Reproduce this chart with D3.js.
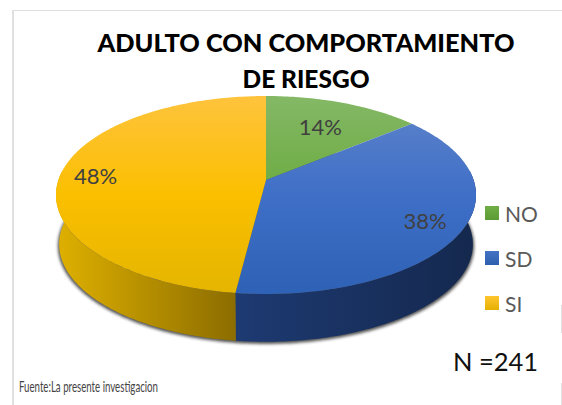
<!DOCTYPE html>
<html><head><meta charset="utf-8">
<script src="https://cdn.jsdelivr.net/npm/d3@7"></script>
<style>html,body{margin:0;padding:0;background:#fff}svg{display:block}text{font-family:Lato,"Open Sans",sans-serif}</style>
</head><body><svg id="c" width="562" height="405"></svg>
<script>
const categories=["NO","SD","SI"];
const values=[14,38,48];
const labels=["14%","38%","48%"];
const topColors=[["#84b866","#6cab40","#60a038"],["#5f84ca","#3f6fc7","#2e62b6"],["#fec33c","#fbbf00","#e4b500"]];
const sideColors=[["#4a7a2c","#3a6122"],["#1d3a72","#15294f"],["#dcae00","#8c6d00"]];
const legendColors=[["#70ae48","#5c9a34"],["#4472c4","#2e5eae"],["#ffc52f","#e6b000"]];
const titleLines=["ADULTO CON COMPORTAMIENTO","DE RIESGO"];
const titleWidths=[417,127];
const titleBaselines=[52,88];

const svg=d3.select("#c");
const defs=svg.append("defs");
const cx=266,cy=180,Rx=207.6,Ry=96.7,k=0.1515,depth=49.5,bottomScale=0.985;
const sx=d3.scaleLinear().domain([-1,1]).range([cx-Rx,cx+Rx]);
const sy=d3.scaleLinear().domain([-1,1]).range([cy+Ry,cy-Ry]);
const project=(a,s=1,dy=0)=>{
  const d=1+k*Math.cos(a);
  return [cx+(sx(Math.sin(a)/d)-cx)*s, cy+(sy(Math.cos(a)/d)-cy)*s+dy];
};
const line=d3.line();
const pie=d3.pie().sort(null).value(d=>d)(values);
const samples=(a0,a1)=>{const n=Math.max(2,Math.ceil((a1-a0)*60));return d3.range(n+1).map(i=>a0+(a1-a0)*i/n);};

// faint frame remnants
const frame="#e0e0e0";
svg.append("line").attr("x1",13).attr("x2",13).attr("y1",10).attr("y2",405).attr("stroke",frame).attr("stroke-width",2);
svg.append("line").attr("x1",12).attr("x2",562).attr("y1",10.5).attr("y2",10.5).attr("stroke",frame).attr("stroke-width",1);
[[305,333],[383,405]].forEach(r=>svg.append("line").attr("x1",561.5).attr("x2",561.5).attr("y1",r[0]).attr("y2",r[1]).attr("stroke",frame).attr("stroke-width",1));

// gradients
pie.forEach((p,i)=>{
  const g=defs.append("linearGradient").attr("id","top"+i).attr("gradientUnits","userSpaceOnUse")
    .attr("x1",0).attr("x2",0).attr("y1",cy-84).attr("y2",cy+114);
  topColors[i].forEach((c,j)=>g.append("stop").attr("offset",j/2).attr("stop-color",c));
  const l=defs.append("linearGradient").attr("id","leg"+i).attr("x1",0).attr("x2",0).attr("y1",0).attr("y2",1);
  legendColors[i].forEach((c,j)=>l.append("stop").attr("offset",j).attr("stop-color",c));
});
const f=defs.append("filter").attr("id","blur").attr("x","-10%").attr("y","-10%").attr("width","120%").attr("height","120%");
f.append("feGaussianBlur").attr("stdDeviation",1.6);

// shadow
svg.append("path").attr("d",line(samples(0,2*Math.PI).map(a=>project(a,bottomScale+0.006,depth+1.5)))+"Z")
  .attr("fill","#2a2a2a").attr("opacity",.8).attr("filter","url(#blur)");

// side walls (front part only)
pie.forEach((p,i)=>{
  const a0=Math.max(p.startAngle,Math.PI/2-0.1), a1=Math.min(p.endAngle,3*Math.PI/2+0.1);
  if(a1<=a0) return;
  const ang=samples(a0,a1);
  const x0=project(a0)[0],x1=project(a1)[0];
  const g=defs.append("linearGradient").attr("id","side"+i).attr("gradientUnits","userSpaceOnUse")
    .attr("x1",x1).attr("x2",x0).attr("y1",0).attr("y2",0);
  sideColors[i].forEach((c,j)=>g.append("stop").attr("offset",j).attr("stop-color",c));
  const pts=ang.map(a=>project(a)).concat(ang.slice().reverse().map(a=>project(a,bottomScale,depth)));
  svg.append("path").attr("d",line(pts)+"Z").attr("fill",`url(#side${i})`);
});

// top wedges
pie.forEach((p,i)=>{
  const pts=[[cx,cy]].concat(samples(p.startAngle,p.endAngle).map(a=>project(a)));
  svg.append("path").attr("d",line(pts)+"Z").attr("fill",`url(#top${i})`);
});

// data labels
const labelR=[.70,.81,.83];
pie.forEach((p,i)=>{
  const q=project((p.startAngle+p.endAngle)/2,labelR[i]);
  svg.append("text").attr("x",q[0]).attr("y",q[1]).attr("text-anchor","middle").attr("dominant-baseline","central")
    .attr("font-size",22).attr("fill","#404040").text(labels[i]);
});

// legend
const ly=d3.scalePoint().domain(categories).range([213,303]);
categories.forEach((c,i)=>{
  svg.append("rect").attr("x",485).attr("y",ly(c)-7).attr("width",14).attr("height",14).attr("fill",`url(#leg${i})`);
  svg.append("text").attr("x",505).attr("y",ly(c)).attr("dominant-baseline","central").attr("font-size",21).attr("fill","#595959").text(c);
});

// title and notes
titleLines.forEach((t,i)=>{
  svg.append("text").attr("x",306).attr("y",titleBaselines[i]).attr("text-anchor","middle")
    .attr("font-size",25.5).attr("font-weight",900).attr("fill","#000")
    .attr("textLength",titleWidths[i]).attr("lengthAdjust","spacingAndGlyphs").text(t);
});
svg.append("text").attr("x",453).attr("y",371).attr("font-size",25.5).attr("fill","#111").text("N =241");
svg.append("text").attr("x",19).attr("y",392).attr("font-size",16).attr("fill","#444")
  .attr("textLength",139).attr("lengthAdjust","spacingAndGlyphs").text("Fuente:La presente investigacion");
</script></body></html>
